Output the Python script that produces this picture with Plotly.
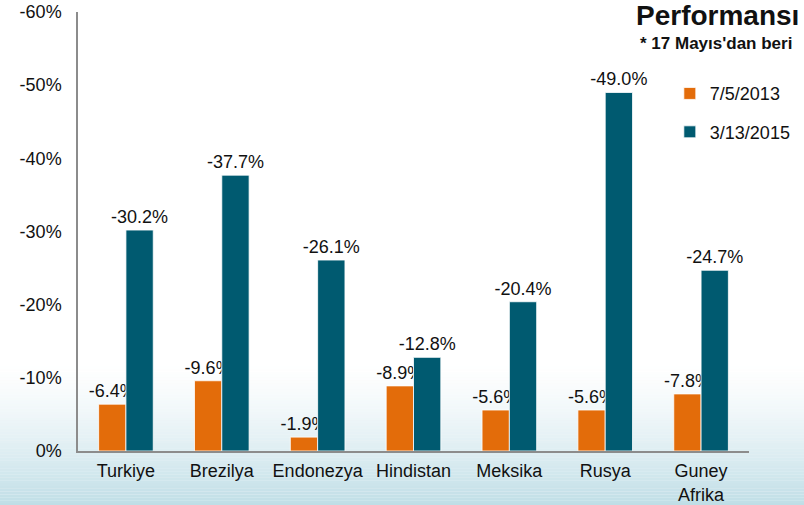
import plotly.graph_objects as go

categories = ["Turkiye", "Brezilya", "Endonezya", "Hindistan", "Meksika", "Rusya", "Guney<br>Afrika"]
series_2013 = [-6.4, -9.6, -1.9, -8.9, -5.6, -5.6, -7.8]
series_2015 = [-30.2, -37.7, -26.1, -12.8, -20.4, -49.0, -24.7]
series_names = ["7/5/2013", "3/13/2015"]
tick_vals = [0, -10, -20, -30, -40, -50, -60]
tick_text = ["0%", "-10%", "-20%", "-30%", "-40%", "-50%", "-60%"]

ORANGE = "#e36c0a"
TEAL = "#005a70"
FONT = "Liberation Sans, Arial, sans-serif"

fig = go.Figure()
for name, vals, col, grp in [(series_names[0], series_2013, ORANGE, "a"),
                             (series_names[1], series_2015, TEAL, "b")]:
    fig.add_trace(go.Bar(
        x=categories, y=vals, name=name, legendgroup=grp,
        marker=dict(color=col, line=dict(color="rgba(255,255,255,0.8)", width=1)),
        text=[f"{v:.1f}%" for v in vals], textposition="outside",
        constraintext="none", cliponaxis=False,
        textfont=dict(family=FONT, size=18, color="#111111"),
    ))

# soft background gradient at the bottom
shapes = []
n = 50
y_top = 0.20
y_bot = -0.125
for i in range(n):
    t0 = i / n
    t1 = (i + 1) / n
    ya = y_top - (y_top - y_bot) * t0
    yb = y_top - (y_top - y_bot) * t1
    a = 0.95 * (t1 ** 1.4)
    shapes.append(dict(type="rect", xref="paper", yref="paper",
                       x0=-0.2, x1=1.2, y0=yb, y1=ya,
                       fillcolor=f"rgba(188,220,229,{a:.3f})", line=dict(width=0),
                       layer="below"))

fig.update_layout(
    width=804, height=505,
    margin=dict(l=78, r=55, t=12, b=54, autoexpand=False),
    paper_bgcolor="white", plot_bgcolor="rgba(0,0,0,0)",
    barmode="group", bargap=0.43, bargroupgap=0,
    font=dict(family=FONT, size=18, color="#111111"),
    shapes=shapes,
    showlegend=True,
    legend=dict(x=0.882, y=0.856, xanchor="left", yanchor="top",
                font=dict(family=FONT, size=18, color="#111111"),
                itemwidth=30,
                bgcolor="rgba(0,0,0,0)", tracegroupgap=12, traceorder="grouped"),
    xaxis=dict(showline=True, linecolor="#8c8c8c", linewidth=1.5, ticks="",
               showgrid=False, tickfont=dict(size=18), automargin=False,
               ticklabelstandoff=3),
    yaxis=dict(range=[0, -60], tickvals=tick_vals, ticktext=tick_text,
               showline=True, linecolor="#8c8c8c", linewidth=1.5, ticks="",
               showgrid=False, zeroline=False, tickfont=dict(size=18),
               ticklabelstandoff=11, automargin=False, ticklabeloverflow="allow"),
    annotations=[
        dict(text="<b>Performansı</b>", xref="paper", yref="paper",
             x=(634 - 78) / 671, y=(451 - 16) / 439, xanchor="left", yanchor="middle",
             showarrow=False, font=dict(family=FONT, size=28, color="#111111")),
        dict(text="<b>* 17 Mayıs'dan beri</b>", xref="paper", yref="paper",
             x=(638 - 78) / 671, y=(451 - 43) / 439, xanchor="left", yanchor="middle",
             showarrow=False, font=dict(family=FONT, size=17, color="#111111")),
    ],
)

fig.write_html("out.html", config={"displayModeBar": False},
               post_script="document.body.style.margin='0';document.body.style.overflow='hidden';")
